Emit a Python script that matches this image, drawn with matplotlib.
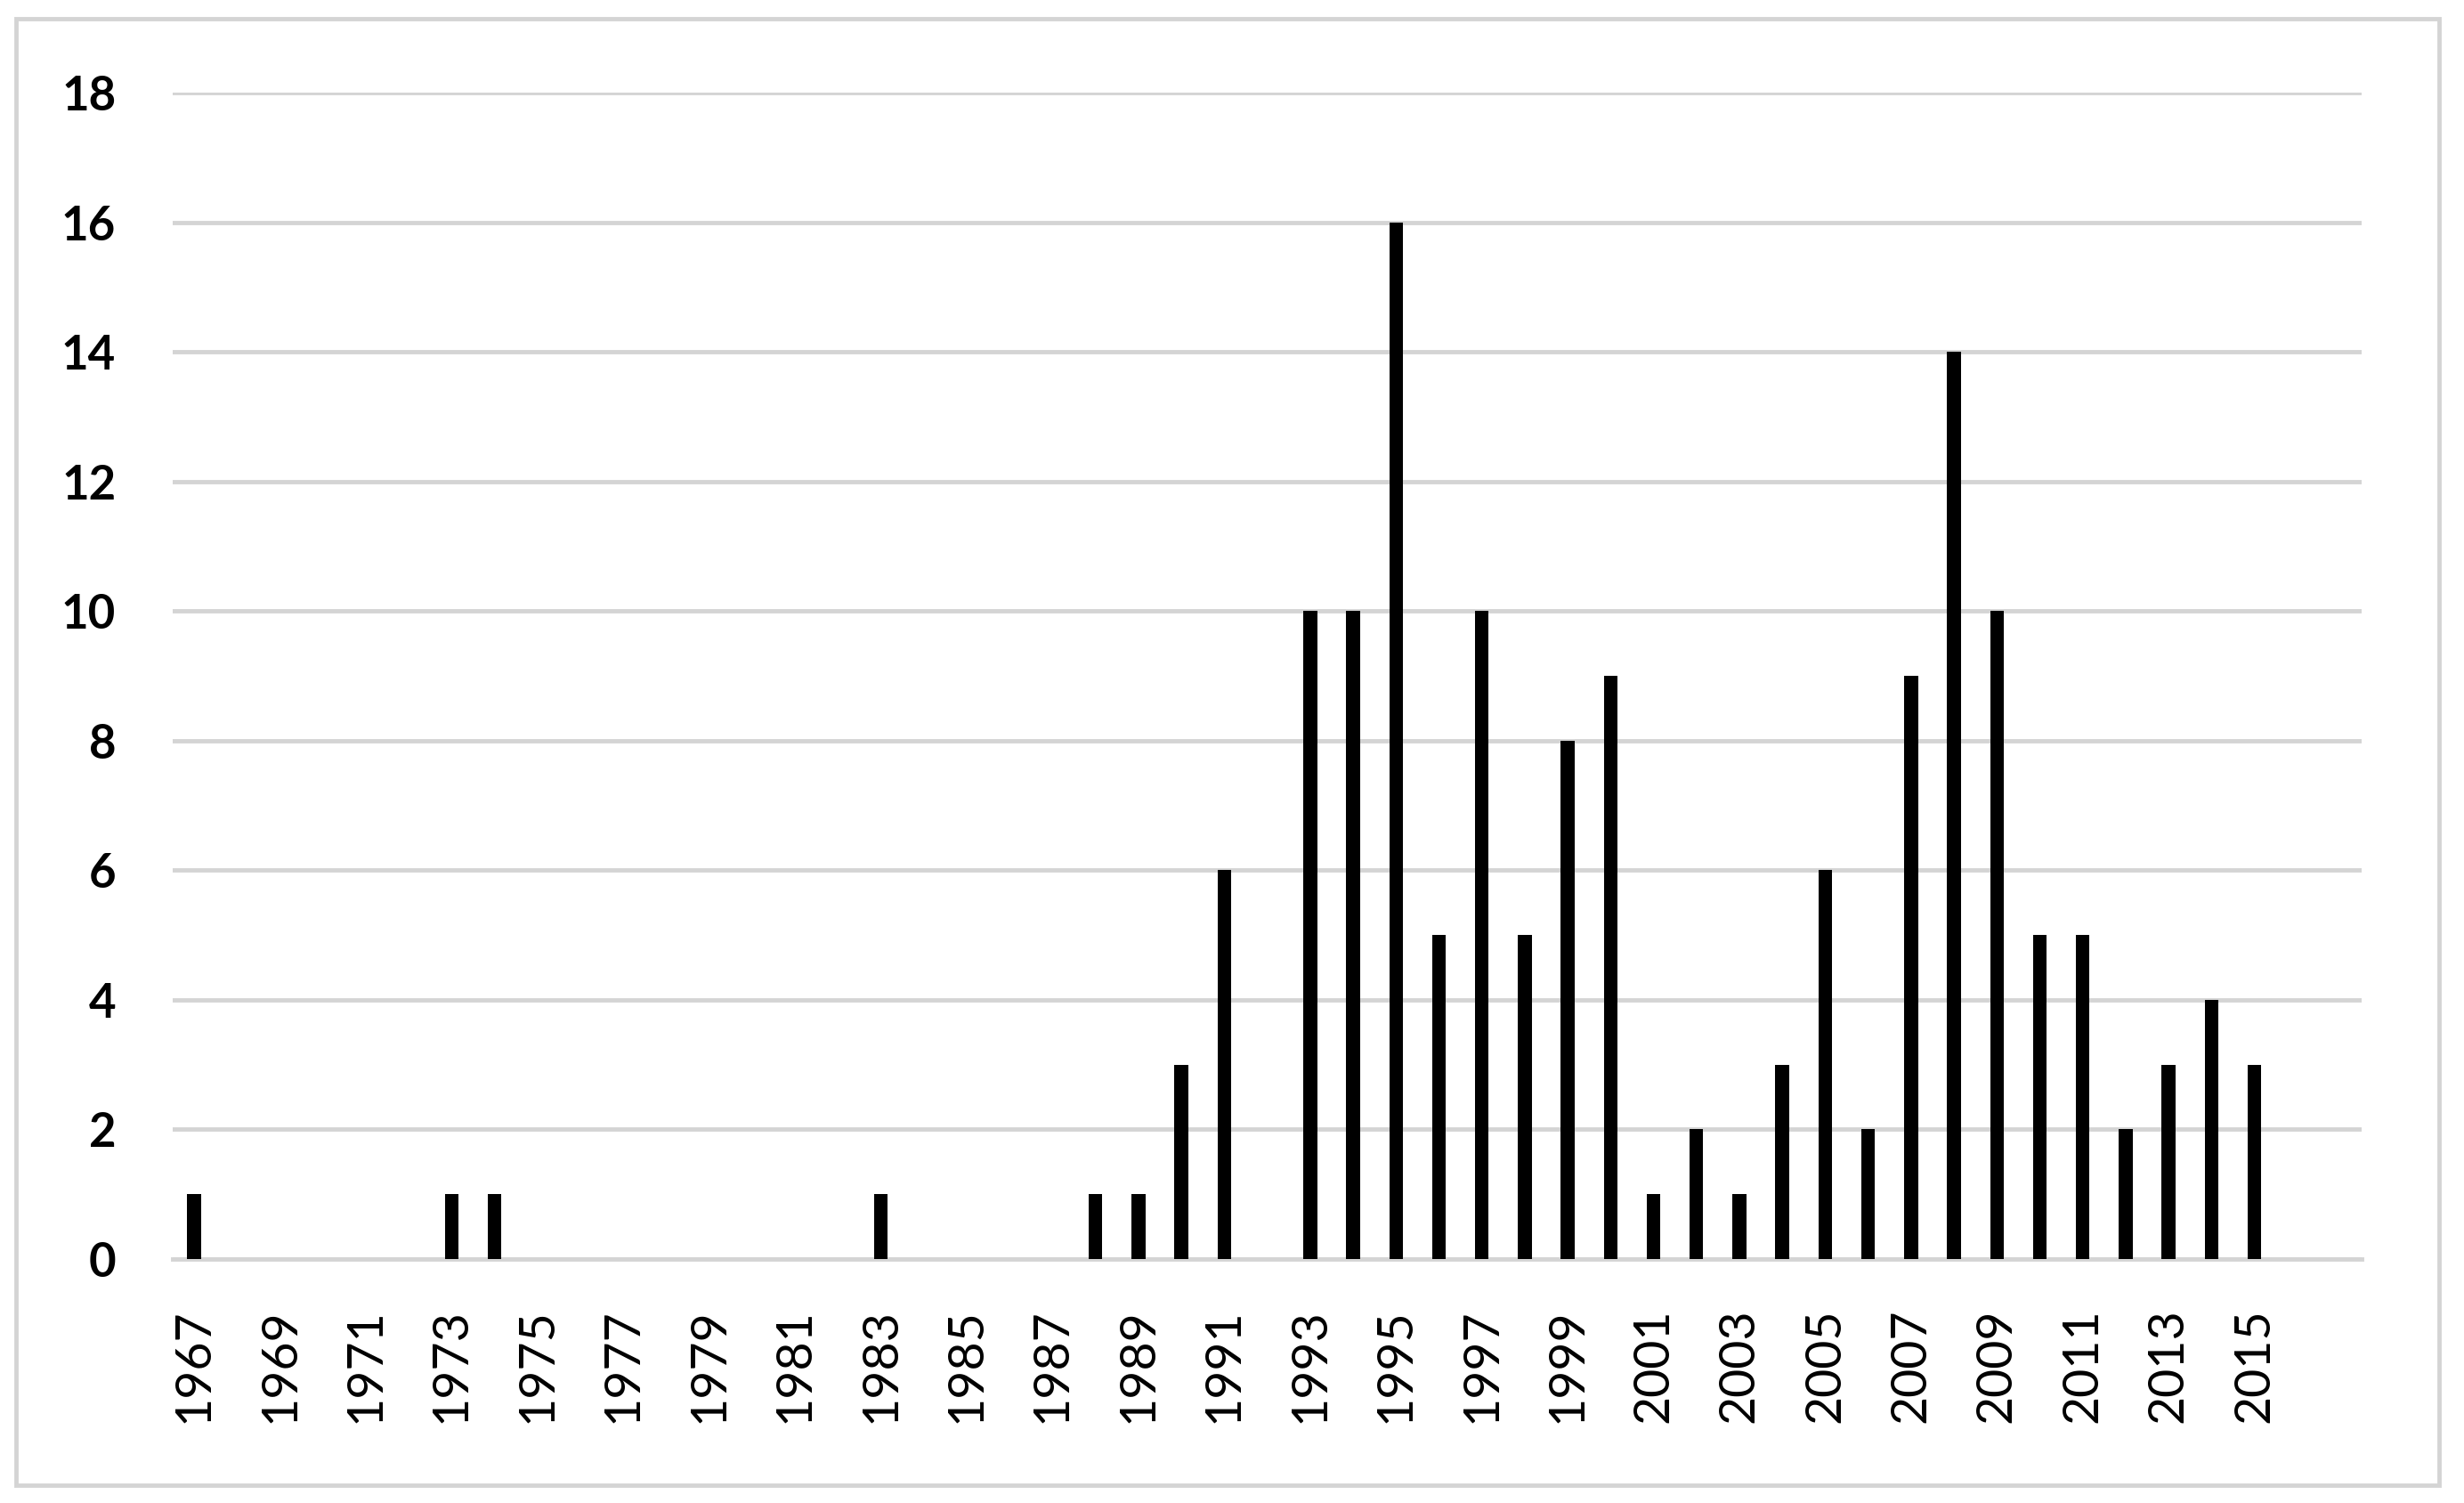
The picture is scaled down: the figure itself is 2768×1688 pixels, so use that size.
import matplotlib.pyplot as plt
from matplotlib.patches import Rectangle

years = list(range(1967, 2016))
counts = [1, 0, 0, 0, 0, 0, 1, 1, 0, 0,
          0, 0, 0, 0, 0, 0, 1, 0, 0, 0,
          0, 1, 1, 3, 6, 0, 10, 10, 16, 5,
          10, 5, 8, 9, 1, 2, 1, 3, 6, 2,
          9, 14, 10, 5, 5, 2, 3, 4, 3]
tick_years = list(range(1967, 2016, 2))
y_ticks = list(range(0, 19, 2))

plt.rcParams['font.family'] = ['Lato', 'DejaVu Sans']

fig = plt.figure(figsize=(27.68, 16.88), dpi=100)
ax = fig.add_axes([0.0701, 0.1623, 0.8884, 0.7761])

x = [y - years[0] for y in years]
ax.bar(x, counts, width=0.32, color='black', zorder=3)

ax.set_xlim(-0.5, 50.5)
ax.set_ylim(0, 18)
ax.set_yticks(y_ticks)
ax.set_yticklabels([str(v) for v in y_ticks], fontsize=38, fontweight='bold')
ax.set_xticks([t - years[0] for t in tick_years])
ax.set_xticklabels([str(t) for t in tick_years], rotation=90, fontsize=40)
ax.tick_params(axis='y', length=0, pad=46)
ax.tick_params(axis='x', length=0, pad=40)
ax.grid(axis='y', color='#d4d4d4', linewidth=3.5, zorder=0)
for s in ['top', 'right', 'left']:
    ax.spines[s].set_visible(False)
ax.spines['bottom'].set_color('#d4d4d4')
ax.spines['bottom'].set_linewidth(3.5)
ax.spines['bottom'].set_zorder(1)

fig.patches.append(Rectangle((0.0065, 0.0118), 0.9835, 0.9758, transform=fig.transFigure,
                             fill=False, edgecolor='#d4d4d4', linewidth=3.5))

plt.savefig('out.png', dpi=100)
